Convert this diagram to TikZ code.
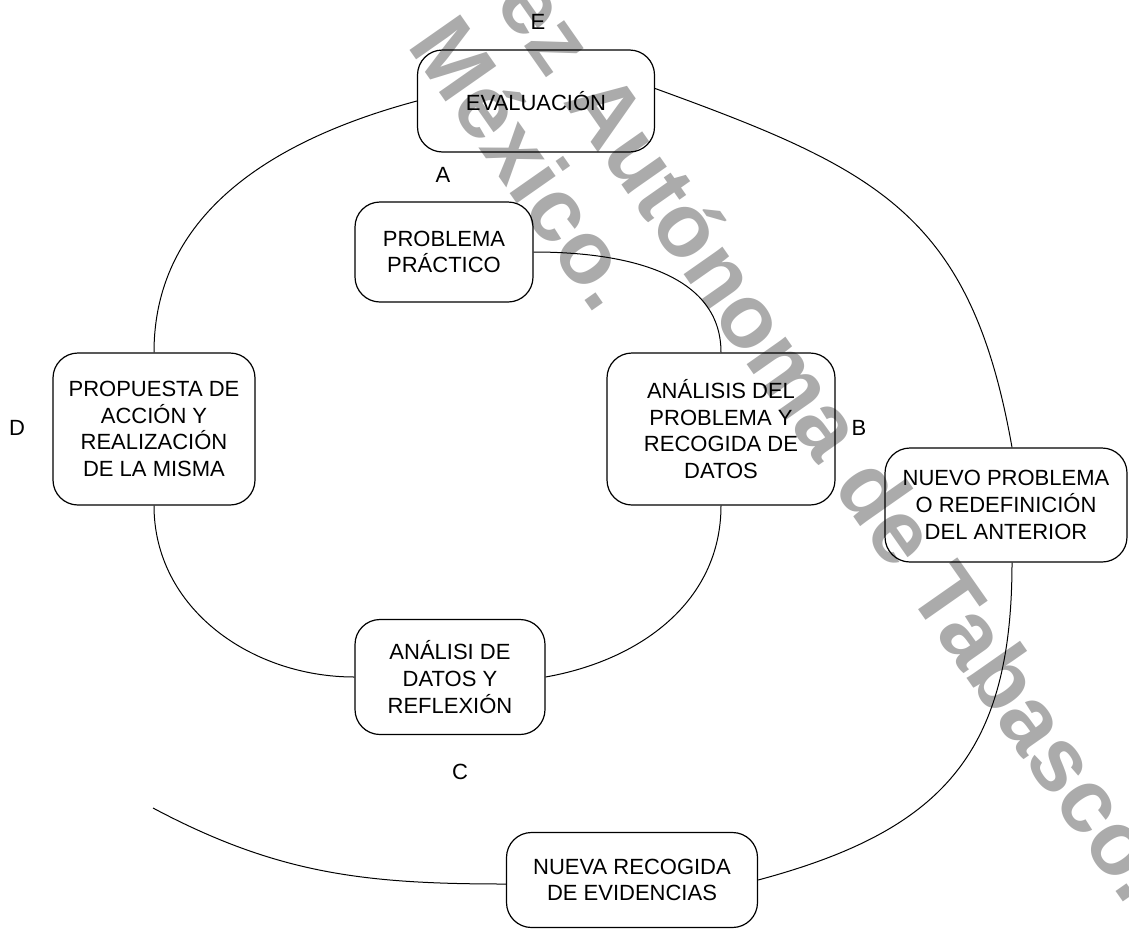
\documentclass[tikz,border=0pt]{standalone}
\usepackage{fontspec}
\setmainfont{Liberation Sans}
\usetikzlibrary{calc}
\begin{document}
\begin{tikzpicture}[x=1pt,y=-1pt,
  box/.style={draw, rounded corners=25pt, line width=1.2pt, align=center, inner sep=0pt, font=\fontsize{22}{26.7}\selectfont},
  lbl/.style={font=\fontsize{22}{26.7}\selectfont, inner sep=0pt},
  link/.style={draw, line width=1pt},
  wm/.style={rotate=-55, anchor=base east, inner sep=0pt, text=black!33, font=\fontsize{90}{90}\selectfont\bfseries}]
\useasboundingbox (0,0) rectangle (1129,932);
\begin{scope}
\clip (0,0) rectangle (1129,932);
\node[wm] (wm1) at (1127,907) {ez Autónoma de Tabasco.};
\node[wm] (wm2) at (596,316) {México.};
\end{scope}
\node[box, minimum width=237pt, minimum height=102pt] (eval) at (536,101) {EVALUACIÓN};
\node[box, minimum width=178pt, minimum height=100pt] (prob) at (444,252) {PROBLEMA\\PRÁCTICO};
\node[box, minimum width=228pt, minimum height=152pt] (anal) at (721,429) {ANÁLISIS DEL\\PROBLEMA Y\\RECOGIDA DE\\DATOS};
\node[box, minimum width=242pt, minimum height=114pt] (nuevo) at (1006,505) {NUEVO PROBLEMA\\O REDEFINICIÓN\\DEL ANTERIOR};
\node[box, minimum width=202pt, minimum height=152pt] (prop) at (154,429) {PROPUESTA DE\\ACCIÓN Y\\REALIZACIÓN\\DE LA MISMA};
\node[box, minimum width=190pt, minimum height=115pt] (datos) at (450,677) {ANÁLISI DE\\DATOS Y\\REFLEXIÓN};
\node[box, minimum width=251pt, minimum height=95pt] (nueva) at (632,880) {NUEVA RECOGIDA\\DE EVIDENCIAS};
\node[lbl] (lE) at (538,22) {E};
\node[lbl] (lA) at (443,175) {A};
\node[lbl] (lB) at (859,428) {B};
\node[lbl] (lC) at (460,772) {C};
\node[lbl] (lD) at (17,428) {D};
\coordinate (tail) at (153,808);
\path[link] (prob.east) to[out=0,in=90] (anal.north);
\path[link] (anal.south) to[out=-90,in=10] (datos.east);
\path[link] (datos.west) to[out=180,in=-90] (prop.south);
\path[link] (prop.north) to[out=90,in=195] (eval.west);
\path[link] (eval.6) to[out=-20,in=100,looseness=1.2] ($(nuevo.north)+(6,0)$);
\path[link] ($(nuevo.south)+(6,0)$) to[out=-90,in=15,looseness=1.2] (nueva.east);
\path[link] ($(nueva.west)+(0,4)$) to[out=180,in=-28] (tail);
\end{tikzpicture}
\end{document}
